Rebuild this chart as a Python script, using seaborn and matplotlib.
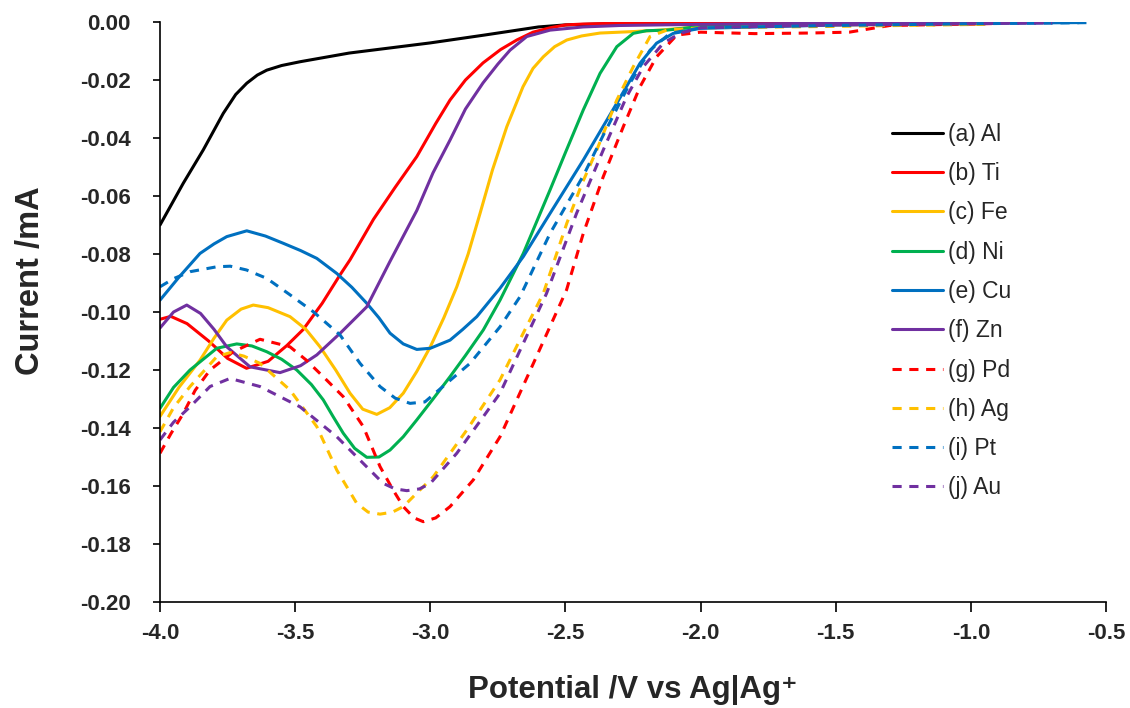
import matplotlib
matplotlib.use("Agg")
import matplotlib.pyplot as plt
from matplotlib.lines import Line2D
import pandas as pd
import seaborn as sns

# Linear sweep voltammograms
ELECTRODES = ["(a) Al", "(b) Ti", "(c) Fe", "(d) Ni", "(e) Cu",
              "(f) Zn", "(g) Pd", "(h) Ag", "(i) Pt", "(j) Au"]

al_x = [-4.0, -3.914, -3.84, -3.766, -3.72, -3.679, -3.64, -3.605, -3.55, -3.482,
        -3.3, -3.0, -2.8, -2.6, -2.5, -2.3, -2.0, -1.5, -0.95]
al_y = [-0.070, -0.0556, -0.0441, -0.0315, -0.025, -0.0211, -0.0183, -0.0166, -0.0150, -0.0137,
        -0.0107, -0.0072, -0.0045, -0.0017, -0.0010, -0.0005, -0.0003, -0.0002, -0.0001]

ti_x = [-4.0, -3.96, -3.9, -3.82, -3.75, -3.68, -3.6, -3.53, -3.47, -3.4, -3.334, -3.297,
        -3.21, -3.13, -3.05, -2.98, -2.927, -2.87, -2.805, -2.74, -2.68, -2.62, -2.557,
        -2.5, -2.435, -2.3, -2.0, -1.5, -0.9]
ti_y = [-0.1025, -0.1015, -0.104, -0.110, -0.116, -0.1194, -0.117, -0.1115, -0.106, -0.097,
        -0.0872, -0.082, -0.068, -0.057, -0.0464, -0.035, -0.0269, -0.020, -0.0141, -0.0095,
        -0.0062, -0.0035, -0.002, -0.001, -0.0007, -0.0004, -0.0003, -0.0002, -0.0001]

fe_x = [-4.0, -3.93, -3.852, -3.8, -3.753, -3.7, -3.655, -3.6, -3.519, -3.46, -3.408, -3.35,
        -3.297, -3.25, -3.198, -3.15, -3.1, -3.05, -3.0, -2.95, -2.902, -2.86, -2.816, -2.77,
        -2.717, -2.657, -2.62, -2.582, -2.54, -2.495, -2.44, -2.372, -2.25, -2.15, -2.05,
        -1.9, -1.5, -0.95]
fe_y = [-0.136, -0.126, -0.1166, -0.109, -0.1028, -0.099, -0.0976, -0.0985, -0.1016, -0.106,
        -0.112, -0.120, -0.128, -0.1335, -0.1353, -0.133, -0.128, -0.1205, -0.112, -0.102,
        -0.0913, -0.080, -0.066, -0.051, -0.0361, -0.0223, -0.016, -0.012, -0.0085, -0.0062,
        -0.0048, -0.0038, -0.0033, -0.0028, -0.002, -0.0015, -0.001, -0.0007]

ni_x = [-4.0, -3.95, -3.889, -3.79, -3.716, -3.66, -3.605, -3.55, -3.494, -3.44, -3.396,
        -3.36, -3.322, -3.28, -3.235, -3.19, -3.149, -3.1, -3.05, -2.99, -2.927, -2.87,
        -2.804, -2.742, -2.656, -2.557, -2.5, -2.434, -2.372, -2.31, -2.249, -2.2, -2.125,
        -2.0, -1.5, -0.9]
ni_y = [-0.1332, -0.126, -0.12, -0.1125, -0.111, -0.1117, -0.1137, -0.1163, -0.12, -0.125,
        -0.1303, -0.136, -0.1418, -0.147, -0.1501, -0.150, -0.1476, -0.143, -0.1372, -0.130,
        -0.1223, -0.115, -0.1062, -0.0959, -0.0798, -0.0579, -0.045, -0.0303, -0.0177,
        -0.0085, -0.0039, -0.003, -0.0028, -0.0015, -0.0008, -0.0004]

cu_x = [-4.0, -3.93, -3.852, -3.8, -3.753, -3.679, -3.61, -3.544, -3.48, -3.42, -3.346,
        -3.29, -3.235, -3.19, -3.149, -3.1, -3.05, -3.0, -2.927, -2.88, -2.828, -2.742,
        -2.656, -2.557, -2.434, -2.31, -2.224, -2.163, -2.101, -2.002, -1.5, -1.0, -0.6]
cu_y = [-0.0959, -0.088, -0.0798, -0.0765, -0.074, -0.072, -0.0738, -0.0763, -0.0788,
        -0.0815, -0.0867, -0.0915, -0.097, -0.102, -0.1073, -0.111, -0.1129, -0.1125,
        -0.1097, -0.106, -0.1016, -0.0918, -0.0809, -0.066, -0.0476, -0.028, -0.0142,
        -0.0073, -0.0039, -0.0022, -0.001, -0.0005, -0.0002]

zn_x = [-4.0, -3.95, -3.901, -3.85, -3.8, -3.753, -3.667, -3.556, -3.48, -3.42, -3.33,
        -3.235, -3.15, -3.05, -2.99, -2.927, -2.87, -2.805, -2.75, -2.705, -2.643, -2.557,
        -2.435, -2.3, -2.0, -1.5, -0.7]
zn_y = [-0.1055, -0.100, -0.0976, -0.1005, -0.106, -0.112, -0.1189, -0.1209, -0.1185,
        -0.1148, -0.107, -0.0982, -0.0827, -0.065, -0.052, -0.0407, -0.030, -0.021, -0.0145,
        -0.0097, -0.005, -0.0028, -0.0017, -0.0012, -0.0008, -0.0004, -0.0002]

pd_x = [-4.0, -3.96, -3.914, -3.87, -3.815, -3.729, -3.63, -3.519, -3.46, -3.396, -3.322,
        -3.248, -3.186, -3.14, -3.1, -3.06, -3.026, -2.98, -2.927, -2.841, -2.742, -2.62,
        -2.496, -2.434, -2.36, -2.286, -2.224, -2.163, -2.088, -2.0, -1.8, -1.6, -1.45,
        -1.3, -0.9]
pd_y = [-0.1487, -0.142, -0.135, -0.127, -0.12, -0.1137, -0.1094, -0.112, -0.1165, -0.1223,
        -0.1292, -0.1395, -0.1533, -0.161, -0.1671, -0.171, -0.1723, -0.171, -0.1671, -0.1579,
        -0.143, -0.118, -0.0924, -0.0729, -0.0533, -0.0361, -0.0223, -0.012, -0.0045,
        -0.0035, -0.004, -0.0038, -0.0035, -0.0012, -0.0005]

ag_x = [-4.0, -3.95, -3.889, -3.79, -3.741, -3.69, -3.63, -3.519, -3.42, -3.346, -3.272,
        -3.23, -3.186, -3.14, -3.1, -2.989, -2.865, -2.742, -2.66, -2.582, -2.495, -2.44,
        -2.384, -2.31, -2.249, -2.187, -2.125, -2.0, -1.5, -0.95]
ag_y = [-0.1413, -0.133, -0.1257, -0.1154, -0.114, -0.1152, -0.1177, -0.1269, -0.1395,
        -0.1545, -0.166, -0.1690, -0.1697, -0.169, -0.1671, -0.1568, -0.1407, -0.1234,
        -0.108, -0.0936, -0.0694, -0.056, -0.0441, -0.0269, -0.0154, -0.005, -0.0028,
        -0.002, -0.0015, -0.0008]

pt_x = [-4.0, -3.95, -3.889, -3.79, -3.74, -3.68, -3.605, -3.52, -3.433, -3.334, -3.26,
        -3.186, -3.13, -3.075, -3.02, -2.976, -2.853, -2.742, -2.668, -2.557, -2.434, -2.36,
        -2.261, -2.187, -2.113, -2.0, -1.5, -1.0, -0.55]
pt_y = [-0.0913, -0.0885, -0.0861, -0.0844, -0.0842, -0.0855, -0.0884, -0.094, -0.0999,
        -0.1079, -0.1177, -0.1257, -0.1297, -0.1315, -0.131, -0.1275, -0.1177, -0.1051,
        -0.0947, -0.0729, -0.053, -0.039, -0.021, -0.0097, -0.0039, -0.002, -0.0012,
        -0.0006, -0.0002]

au_x = [-4.0, -3.95, -3.889, -3.815, -3.741, -3.63, -3.482, -3.346, -3.248, -3.174, -3.13,
        -3.087, -3.04, -3.0, -2.902, -2.804, -2.742, -2.66, -2.57, -2.459, -2.36, -2.274,
        -2.212, -2.138, -2.076, -2.0, -1.5, -0.7]
au_y = [-0.1441, -0.138, -0.1327, -0.1257, -0.1229, -0.1257, -0.1327, -0.143, -0.1522,
        -0.1591, -0.1610, -0.1616, -0.1610, -0.1591, -0.1487, -0.1361, -0.128, -0.1116,
        -0.0936, -0.066, -0.0441, -0.0258, -0.0154, -0.0073, -0.0039, -0.002, -0.001, -0.0003]

SERIES_X = [al_x, ti_x, fe_x, ni_x, cu_x, zn_x, pd_x, ag_x, pt_x, au_x]
SERIES_Y = [al_y, ti_y, fe_y, ni_y, cu_y, zn_y, pd_y, ag_y, pt_y, au_y]

COLORS = ["#000000", "#FF0000", "#FFC000", "#00B050", "#0070C0",
          "#7030A0", "#FF0000", "#FFC000", "#0070C0", "#7030A0"]
DASHED = [False] * 6 + [True] * 4

frames = []
for name, xs, ys in zip(ELECTRODES, SERIES_X, SERIES_Y):
    frames.append(pd.DataFrame({"potential": xs, "current": ys, "electrode": name}))
df = pd.concat(frames, ignore_index=True)

sns.set_style("ticks")
plt.rcParams["font.family"] = ["Liberation Sans", "DejaVu Sans"]
plt.rcParams["lines.solid_joinstyle"] = "round"
plt.rcParams["lines.dash_capstyle"] = "butt"

palette = dict(zip(ELECTRODES, COLORS))
dash_map = {n: ((3, 2.5) if d else "") for n, d in zip(ELECTRODES, DASHED)}

fig, ax = plt.subplots(figsize=(11.3, 7.08), dpi=100)
fig.patch.set_facecolor("white")
fig.subplots_adjust(left=0.1416, right=0.9788, top=0.9689, bottom=0.1497)

sns.lineplot(data=df, x="potential", y="current", hue="electrode", style="electrode",
             palette=palette, dashes=dash_map, estimator=None, sort=True,
             linewidth=2.2, legend=False, ax=ax)

ax.set_xlim(-4.0, -0.5)
ax.set_ylim(-0.20, 0.0)
ax.set_xticks([-4.0, -3.5, -3.0, -2.5, -2.0, -1.5, -1.0, -0.5])
ax.set_yticks([-0.20, -0.18, -0.16, -0.14, -0.12, -0.10, -0.08, -0.06, -0.04, -0.02, 0.00])
ax.xaxis.set_major_formatter(matplotlib.ticker.FormatStrFormatter("%.1f"))
ax.yaxis.set_major_formatter(matplotlib.ticker.FormatStrFormatter("%.2f"))
ax.tick_params(axis="x", length=7, width=1.2, pad=8, labelsize=16, color="black")
ax.tick_params(axis="y", length=5, width=1.2, pad=16, labelsize=16, color="black")
for lbl in ax.get_xticklabels() + ax.get_yticklabels():
    lbl.set_fontweight("bold")

for side in ["top", "right"]:
    ax.spines[side].set_visible(False)
for side in ["left", "bottom"]:
    ax.spines[side].set_color("black")
    ax.spines[side].set_linewidth(1.2)

ax.set_xlabel("Potential /V vs Ag|Ag\u207a", fontsize=22.5, fontweight="bold")
ax.xaxis.set_label_coords(0.5, -0.125)
ax.set_ylabel("Current /mA", fontsize=23.5, fontweight="bold")
ax.yaxis.set_label_coords(-0.121, 0.554)

handles = [Line2D([0], [0], color=c, lw=2.2, dashes=((3, 2.5) if d else (None, None)))
           for c, d in zip(COLORS, DASHED)]
ax.legend(handles, ELECTRODES, loc="upper left", bbox_to_anchor=(0.774, 0.826),
          frameon=False, fontsize=16.5, handlelength=2.2, handletextpad=0.22,
          labelspacing=0.71, borderpad=0, borderaxespad=0)

plt.savefig("out.png", dpi=100, facecolor="white")
plt.close()
